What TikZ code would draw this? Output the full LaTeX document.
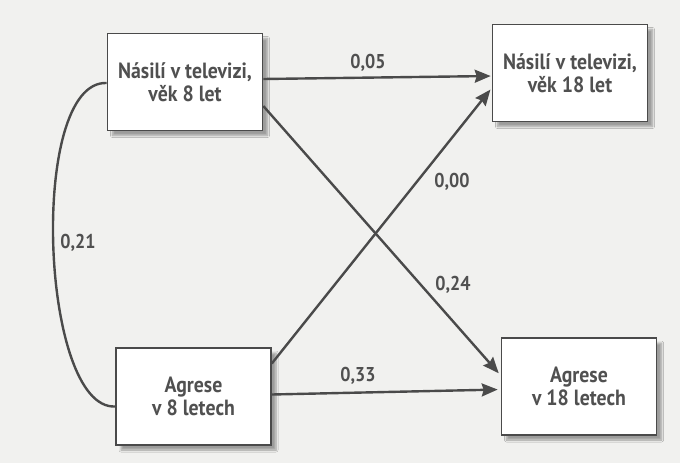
\documentclass[tikz,border=0pt]{standalone}
\usepackage{fontspec}
\setmainfont{PT Sans}
\newfontfamily\boxfont[FakeStretch=0.9]{PT Sans}
\usetikzlibrary{arrows.meta,shadows.blur}
\definecolor{paper}{HTML}{F1F1EF}
\definecolor{ink}{HTML}{4A4A4A}
\definecolor{txt}{HTML}{505050}
\begin{document}
\begin{tikzpicture}[x=1pt,y=-1pt,
  varbox/.style={draw=ink, line width=1.6pt, fill=white,
    minimum width=155pt, minimum height=97pt, align=center,
    text=txt, font=\boxfont\fontsize{22}{23.5}\selectfont\bfseries,
    blur shadow={shadow xshift=5pt, shadow yshift=-5pt,
      shadow blur steps=6, shadow opacity=35}},
  coef/.style={text=txt, font=\boxfont\fontsize{20}{22}\selectfont\bfseries, inner sep=0pt},
  path/.style={draw=ink, line width=2.4pt,
    -{Stealth[length=16pt,width=13pt,inset=2pt]}},
  corr/.style={draw=ink, line width=2.4pt}]
  % page background
  \fill[paper] (0,0) rectangle (680,463);
  \useasboundingbox (0,0) rectangle (680,463);

  % the four measured variables
  \node[varbox] (tv8)   at (185,82)      {Násilí v televizi,\\věk 8 let};
  \node[varbox] (tv18)  at (570,73)      {Násilí v televizi,\\věk 18 let};
  \node[varbox] (ag8)   at (193.5,396.5) {Agrese\\v 8 letech};
  \node[varbox] (ag18)  at (579,386.5)   {Agrese\\v 18 letech};

  % correlation between the two age-8 measures
  \draw[corr] ([yshift=-1pt]tv8.west) .. controls (28,80) and (40,410) .. ([yshift=-10pt]ag8.west);

  % cross-lagged paths
  \draw[path, shorten >=1pt] ([yshift=3pt]tv8.east) -- ([yshift=-3pt]tv18.west);
  \draw[path, shorten >=3pt] ([yshift=-24pt]tv8.east) -- ([yshift=11pt]ag18.west);
  \draw[path, shorten >=2pt] ([yshift=33pt]ag8.east) -- ([yshift=-15pt]tv18.west);
  \draw[path, shorten >=3pt] ([yshift=2pt]ag8.east) -- ([yshift=-3pt]ag18.west);

  % path coefficients
  \node[coef] (c05) at (368,63)  {0,05};
  \node[coef] (c00) at (452,182) {0,00};
  \node[coef] (c24) at (453,285) {0,24};
  \node[coef] (c33) at (358,376) {0,33};
  \node[coef] (c21) at (78,243)  {0,21};
\end{tikzpicture}
\end{document}
